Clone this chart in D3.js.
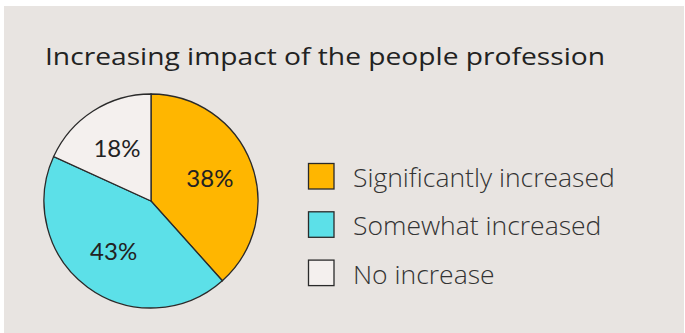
<!DOCTYPE html>
<html>
<head>
<meta charset="utf-8">
<script src="https://cdn.jsdelivr.net/npm/d3@7"></script>
<style>
  body { margin: 0; background: #fff; }
</style>
</head>
<body>
<div class="chart"></div>
<script>
const categories = ["Significantly increased", "Somewhat increased", "No increase"];
const values = [38, 43, 18];
const labels = ["38%", "43%", "18%"];
const colors = ["#ffb600", "#5ce0e8", "#f4f0ee"];

const w = 685;
const h = 333;
const cx = 151, cy = 201, r = 107;

const svg = d3.select(".chart")
              .append("svg")
              .attr("width", w)
              .attr("height", h);

svg.append("rect")
   .attr("x", 4)
   .attr("y", 6)
   .attr("width", w - 5)
   .attr("height", h - 6)
   .attr("fill", "#e8e4e1");

svg.append("text")
   .attr("x", 45)
   .attr("y", 65)
   .attr("font-family", "Open Sans")
   .attr("font-size", 24)
   .attr("fill", "#222")
   .attr("textLength", 560)
   .attr("lengthAdjust", "spacingAndGlyphs")
   .text("Increasing impact of the people profession");

const pie = d3.pie().sort(null).value(d => d);
const arcs = pie(values);
const arc = d3.arc().innerRadius(0).outerRadius(r);
const labelArc = d3.arc().innerRadius(63).outerRadius(63);

const g = svg.append("g")
             .attr("transform", "translate(" + cx + "," + cy + ")");

g.selectAll("path")
 .data(arcs)
 .enter()
 .append("path")
 .attr("d", arc)
 .attr("fill", (d, i) => colors[i])
 .attr("stroke", "#2a2a2a")
 .attr("stroke-width", 1.3);

g.selectAll("text")
 .data(arcs)
 .enter()
 .append("text")
 .attr("transform", d => "translate(" + labelArc.centroid(d) + ")")
 .attr("dy", "0.36em")
 .attr("text-anchor", "middle")
 .attr("font-family", "Lato")
 .attr("font-size", 24)
 .attr("fill", "#222")
 .text((d, i) => labels[i]);

const legend = svg.append("g")
                  .attr("transform", "translate(308,163)");

const item = legend.selectAll("g")
                   .data(categories)
                   .enter()
                   .append("g")
                   .attr("transform", (d, i) => "translate(0," + i * 48.3 + ")");

item.append("rect")
    .attr("x", 0.5)
    .attr("y", 0.5)
    .attr("width", 25.5)
    .attr("height", 25.5)
    .attr("fill", (d, i) => colors[i])
    .attr("stroke", "#2a2a2a")
    .attr("stroke-width", 1.3);

item.append("text")
    .attr("x", 45)
    .attr("y", 24)
    .attr("font-family", "Open Sans")
    .attr("font-weight", 300)
    .attr("font-size", 26.5)
    .attr("fill", "#333")
    .text(d => d);
</script>
</body>
</html>
